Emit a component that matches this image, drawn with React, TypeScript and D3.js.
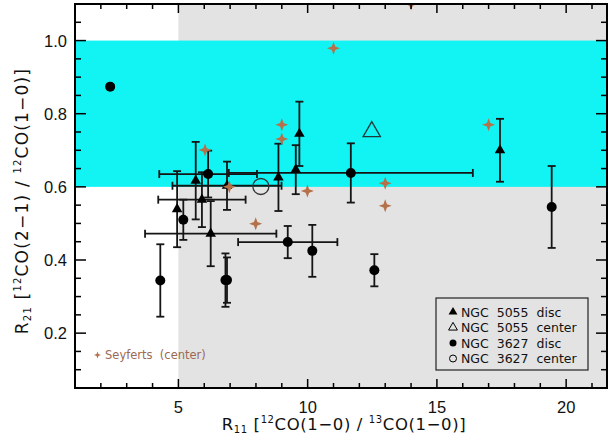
import React from "react";
import * as d3 from "d3";

// ---------- data ----------
const n3627DiscX = [2.36, 4.3, 5.19, 6.15, 11.67, 12.58, 19.44, 9.23, 10.18, 6.82, 6.88];
const n3627DiscY = [0.874, 0.344, 0.51, 0.635, 0.638, 0.372, 0.545, 0.449, 0.425, 0.345, 0.345];
const n3627DiscYErr = [0, 0.099, 0.055, 0.064, 0.081, 0.044, 0.112, 0.044, 0.071, 0.073, 0.062];
const n3627DiscXErr = [0, 0, 0, 1.89, 4.72, 0, 0, 1.92, 0, 0, 0];

const n5055DiscX = [4.95, 5.67, 5.91, 6.88, 6.25, 8.87, 9.54, 9.68, 17.44];
const n5055DiscY = [0.539, 0.617, 0.565, 0.603, 0.472, 0.626, 0.647, 0.745, 0.7];
const n5055DiscYErr = [0.104, 0.106, 0.075, 0.066, 0.089, 0.092, 0.067, 0.088, 0.086];
const n5055DiscXErr = [0, 0, 1.69, 2.11, 2.54, 0, 0, 0, 0];

const n5055CenterX = [12.48];
const n5055CenterY = [0.751];
const n3627CenterX = [8.19];
const n3627CenterY = [0.601];

const seyfertX = [11.0, 14.0, 9.0, 9.0, 17.0, 13.0, 13.0, 6.03, 6.97, 9.99, 7.99];
const seyfertY = [0.979, 1.1, 0.77, 0.731, 0.77, 0.61, 0.548, 0.701, 0.6, 0.589, 0.499];

const xMajorTicks = [5, 10, 15, 20];
const xTickLabels = ["5", "10", "15", "20"];
const yMajorTicks = [0.2, 0.4, 0.6, 0.8, 1.0];
const yTickLabels = ["0.2", "0.4", "0.6", "0.8", "1.0"];

const legendLabels = ["NGC  5055  disc", "NGC  5055  center", "NGC  3627  disc", "NGC  3627  center"];

const xDomain = [1, 21.58];
const yDomain = [0.05, 1.1];
const greyStart = 5;
const bandLow = 0.6;
const bandHigh = 1.0;

// ---------- layout ----------
const W = 608;
const H = 443;
const L = 75, R = 607, T = 4, B = 388;
const STAR = "#b5714a";
const CYAN = "#12f4f4";
const GREY = "#e3e3e3";

const x = d3.scaleLinear().domain(xDomain).range([L, R]);
const y = d3.scaleLinear().domain(yDomain).range([B, T]);

const starPath = (r: number) => {
  const pts: [number, number][] = d3.range(8).map((k) => [
    (k * Math.PI) / 4,
    k % 2 === 0 ? r : r * 0.38,
  ]);
  return d3.lineRadial().curve(d3.curveLinearClosed)(pts) || "";
};

const triSmall = d3.symbol().type(d3.symbolTriangle).size(48)() || "";
const triBig = d3.symbol().type(d3.symbolTriangle).size(130)() || "";
const triLegend = d3.symbol().type(d3.symbolTriangle).size(34)() || "";

function ErrBars({ xs, ys, xe, ye }: { xs: number[]; ys: number[]; xe: number[]; ye: number[] }) {
  const c = 4;
  return (
    <g stroke="#151515" strokeWidth={1.8} fill="none">
      {xs.map((xv, i) => {
        const px = x(xv), py = y(ys[i]);
        const out: any[] = [];
        if (ye[i] > 0) {
          const y1 = y(ys[i] + ye[i]), y2 = y(ys[i] - ye[i]);
          out.push(<line key="v" x1={px} x2={px} y1={y1} y2={y2} />);
          out.push(<line key="vt" x1={px - c} x2={px + c} y1={y1} y2={y1} />);
          out.push(<line key="vb" x1={px - c} x2={px + c} y1={y2} y2={y2} />);
        }
        if (xe[i] > 0) {
          const x1 = x(xv - xe[i]), x2 = x(xv + xe[i]);
          out.push(<line key="h" x1={x1} x2={x2} y1={py} y2={py} />);
          out.push(<line key="hl" x1={x1} x2={x1} y1={py - c} y2={py + c} />);
          out.push(<line key="hr" x1={x2} x2={x2} y1={py - c} y2={py + c} />);
        }
        return <g key={i}>{out}</g>;
      })}
    </g>
  );
}

export default function App() {
  const xMinor = d3.range(1, 22, 1);
  const yMinor = d3.range(1, 22).map((k) => +(k * 0.05).toFixed(2)).filter((v) => v <= 1.1);
  const isXMajor = (v: number) => xMajorTicks.includes(v);
  const isYMajor = (v: number) => yMajorTicks.some((m) => Math.abs(m - v) < 1e-6);

  const lgX = 453, lgY0 = 312, lgDy = 15.5;

  return (
    <svg
      width={W}
      height={H}
      style={{ position: "absolute", left: 0, top: 0, background: "#fff" }}
      fontFamily="'Liberation Sans', Arial, sans-serif"
    >
      <defs>
        <clipPath id="plot">
          <rect x={L} y={T} width={R - L} height={B - T} />
        </clipPath>
      </defs>
      <g clipPath="url(#plot)">
        <rect x={x(greyStart)} y={T} width={R - x(greyStart)} height={B - T} fill={GREY} />
        <rect x={L} y={y(bandHigh)} width={R - L} height={y(bandLow) - y(bandHigh)} fill={CYAN} />

        <ErrBars xs={n3627DiscX} ys={n3627DiscY} xe={n3627DiscXErr} ye={n3627DiscYErr} />
        <ErrBars xs={n5055DiscX} ys={n5055DiscY} xe={n5055DiscXErr} ye={n5055DiscYErr} />

        {n3627DiscX.map((v, i) => (
          <circle key={"c" + i} cx={x(v)} cy={y(n3627DiscY[i])} r={5} fill="#000" />
        ))}
        {n5055DiscX.map((v, i) => (
          <path key={"t" + i} d={triSmall} transform={`translate(${x(v)},${y(n5055DiscY[i])})`} fill="#000" />
        ))}
        {n5055CenterX.map((v, i) => (
          <path key={"tc" + i} d={triBig} transform={`translate(${x(v)},${y(n5055CenterY[i])})`} fill="none" stroke="#1c3a3a" strokeWidth={1.3} />
        ))}
        {n3627CenterX.map((v, i) => (
          <circle key={"cc" + i} cx={x(v)} cy={y(n3627CenterY[i])} r={8} fill="none" stroke="#333" strokeWidth={1.3} />
        ))}

        {seyfertX.map((v, i) => (
          <path key={"s" + i} d={starPath(6.5)} transform={`translate(${x(v)},${y(seyfertY[i])})`} fill={STAR} />
        ))}
      </g>

      {/* ticks */}
      <g stroke="#000" strokeWidth={1.5}>
        {xMinor.map((v) => {
          const len = isXMajor(v) ? 9 : 5;
          return (
            <g key={"xt" + v}>
              <line x1={x(v)} x2={x(v)} y1={B} y2={B - len} />
              <line x1={x(v)} x2={x(v)} y1={T} y2={T + len} />
            </g>
          );
        })}
        {yMinor.map((v) => {
          const len = isYMajor(v) ? 11 : 6;
          return (
            <g key={"yt" + v}>
              <line x1={L} x2={L + len} y1={y(v)} y2={y(v)} />
              <line x1={R} x2={R - len} y1={y(v)} y2={y(v)} />
            </g>
          );
        })}
      </g>
      <rect x={L} y={T} width={R - L} height={B - T} fill="none" stroke="#000" strokeWidth={2} />

      {/* tick labels */}
      <g fontSize={16.5} fill="#111">
        {xMajorTicks.map((v, i) => (
          <text key={"xl" + v} x={x(v)} y={413} textAnchor="middle">{xTickLabels[i]}</text>
        ))}
        {yMajorTicks.map((v, i) => (
          <text key={"yl" + v} x={67} y={y(v)} dy="0.36em" textAnchor="end">{yTickLabels[i]}</text>
        ))}
      </g>

      {/* axis titles */}
      <text x={344} y={430} textAnchor="middle" fontSize={16.5} fill="#111" letterSpacing={0.6} fontFamily="'DejaVu Sans', sans-serif">
        R<tspan fontSize={10} dy={3}>11</tspan>
        <tspan dy={-3}> [</tspan>
        <tspan fontSize={10} dy={-7}>12</tspan>
        <tspan dy={7}>CO(1−0) / </tspan>
        <tspan fontSize={10} dy={-7}>13</tspan>
        <tspan dy={7}>CO(1−0)]</tspan>
      </text>
      <text
        transform={`translate(28,${201}) rotate(-90)`}
        textAnchor="middle"
        fontSize={17}
        fill="#111"
        letterSpacing={1.2}
        fontFamily="'DejaVu Sans', sans-serif"
      >
        R<tspan fontSize={10} dy={3}>21</tspan>
        <tspan dy={-3}> [</tspan>
        <tspan fontSize={10} dy={-7}>12</tspan>
        <tspan dy={7}>CO(2−1) / </tspan>
        <tspan fontSize={10} dy={-7}>12</tspan>
        <tspan dy={7}>CO(1−0)]</tspan>
      </text>

      {/* legend */}
      <rect x={436} y={298} width={152} height={72} fill="none" stroke="#222" strokeWidth={1.2} />
      <path d={triLegend} transform={`translate(${lgX},${lgY0})`} fill="#000" />
      <path d={triLegend} transform={`translate(${lgX},${lgY0 + lgDy})`} fill="none" stroke="#000" strokeWidth={1} />
      <circle cx={lgX} cy={lgY0 + 2 * lgDy} r={3.5} fill="#000" />
      <circle cx={lgX} cy={lgY0 + 3 * lgDy} r={3.5} fill="none" stroke="#000" strokeWidth={1} />
      <g fontSize={12.5} fill="#111" fontFamily="'DejaVu Sans', sans-serif">
        {legendLabels.map((t, i) => (
          <text key={"lg" + i} x={461} y={lgY0 + i * lgDy} dy="0.36em" style={{ whiteSpace: "pre" }}>{t}</text>
        ))}
      </g>

      {/* Seyfert label */}
      <path d={starPath(3.5)} transform="translate(97.5,355)" fill={STAR} />
      <text x={105} y={355} dy="0.36em" fontSize={11.5} fill="#9a6a55" fontFamily="'DejaVu Sans', sans-serif" style={{ whiteSpace: "pre" }}>
        Seyferts  (center)
      </text>
    </svg>
  );
}
